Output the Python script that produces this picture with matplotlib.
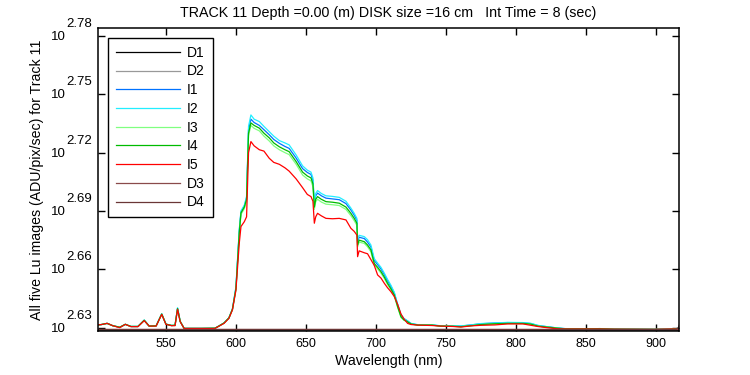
#!/usr/bin/env python
import matplotlib
matplotlib.use('Agg')
import matplotlib.pyplot as plt
import matplotlib.transforms as mtransforms
import numpy as np

plt.rcParams['font.family'] = ['Liberation Sans', 'DejaVu Sans']
plt.rcParams['font.size'] = 9

# wavelength grid (nm) for the Lu images
wl = [500, 504, 508, 512, 517, 521, 525, 530, 534.5, 538, 543, 547, 550,
      554, 556.5, 558.3, 560.2, 563, 575, 585, 588, 591.5, 595, 597.5, 600,
      602.4, 603.6, 606, 607.6, 609, 610.7, 613, 616.7, 620, 623.8, 627, 631,
      635, 638, 643, 647.6, 651, 653.6, 655, 656, 657, 658.3, 661, 664.3,
      669, 673.8, 678.6, 682.1, 684.5, 686.4, 686.9, 688, 691.7, 694, 696.4,
      698.8, 701.2, 703.6, 706, 708.3, 710.7, 713.1, 715.5, 717.9, 720, 722.6,
      725, 730, 740, 746, 755, 760.7, 768, 775, 785, 794, 805, 810.7, 815.5,
      822, 829.8, 835, 850, 860, 870, 899, 910, 916, 918]

# log10 of the signal (ADU/pix/sec)
i1 = [2.6313, 2.6316, 2.6322, 2.6310, 2.6302, 2.6317, 2.6306, 2.6306, 2.6338,
      2.6308, 2.6309, 2.6370, 2.6318, 2.6311, 2.6312, 2.6400, 2.6332, 2.6296,
      2.6296, 2.6297, 2.6309, 2.6324, 2.6350, 2.6395, 2.6505,
      2.6800, 2.6895, 2.6925, 2.6968, 2.7318, 2.7372, 2.7355, 2.7340, 2.7318,
      2.7292, 2.7268, 2.7248, 2.7232, 2.7222, 2.7172, 2.7118, 2.7098, 2.7088,
      2.7058, 2.6935, 2.6978, 2.6992, 2.6978, 2.6966, 2.6962, 2.6958, 2.6938,
      2.6905, 2.6878, 2.6852, 2.6742, 2.6765, 2.6758, 2.6740, 2.6715, 2.6645,
      2.6624, 2.6602, 2.6573, 2.6541, 2.6512, 2.6478, 2.6418, 2.6364, 2.6346,
      2.6334, 2.6321, 2.6314, 2.6314, 2.6309, 2.6309, 2.6308, 2.6314, 2.6320,
      2.6324, 2.6326, 2.6325, 2.6321, 2.6311, 2.6305, 2.6298, 2.6295, 2.6294,
      2.6295, 2.6292, 2.6291, 2.6292, 2.6296, 2.6296]
i2 = [2.6313, 2.6316, 2.6322, 2.6310, 2.6302, 2.6317, 2.6306, 2.6306, 2.6339,
      2.6308, 2.6309, 2.6372, 2.6318, 2.6311, 2.6312, 2.6402, 2.6332, 2.6296,
      2.6296, 2.6297, 2.6309, 2.6324, 2.6351, 2.6396, 2.6510,
      2.6805, 2.6900, 2.6930, 2.6975, 2.7335, 2.7394, 2.7372, 2.7360, 2.7335,
      2.7308, 2.7285, 2.7262, 2.7250, 2.7240, 2.7188, 2.7132, 2.7110, 2.7100,
      2.7070, 2.6945, 2.6990, 2.7005, 2.6990, 2.6978, 2.6975, 2.6970, 2.6950,
      2.6915, 2.6888, 2.6862, 2.6752, 2.6775, 2.6768, 2.6752, 2.6725, 2.6655,
      2.6632, 2.6610, 2.6580, 2.6548, 2.6518, 2.6482, 2.6420, 2.6366, 2.6347,
      2.6335, 2.6322, 2.6315, 2.6314, 2.6310, 2.6310, 2.6309, 2.6314, 2.6321,
      2.6324, 2.6327, 2.6326, 2.6322, 2.6312, 2.6305, 2.6298, 2.6295, 2.6294,
      2.6295, 2.6292, 2.6291, 2.6292, 2.6296, 2.6296]
i3 = [2.6313, 2.6316, 2.6322, 2.6310, 2.6302, 2.6317, 2.6306, 2.6306, 2.6337,
      2.6308, 2.6309, 2.6369, 2.6318, 2.6311, 2.6312, 2.6396, 2.6332, 2.6296,
      2.6296, 2.6297, 2.6309, 2.6323, 2.6349, 2.6393, 2.6495,
      2.6780, 2.6882, 2.6912, 2.6950, 2.7288, 2.7340, 2.7325, 2.7312, 2.7285,
      2.7260, 2.7235, 2.7215, 2.7200, 2.7190, 2.7140, 2.7085, 2.7065, 2.7055,
      2.7025, 2.6908, 2.6948, 2.6960, 2.6946, 2.6935, 2.6932, 2.6928, 2.6908,
      2.6876, 2.6850, 2.6826, 2.6716, 2.6740, 2.6733, 2.6716, 2.6690, 2.6622,
      2.6602, 2.6580, 2.6553, 2.6522, 2.6494, 2.6462, 2.6404, 2.6352, 2.6338,
      2.6328, 2.6318, 2.6313, 2.6313, 2.6308, 2.6307, 2.6305, 2.6310, 2.6315,
      2.6319, 2.6321, 2.6321, 2.6317, 2.6308, 2.6303, 2.6297, 2.6294, 2.6294,
      2.6295, 2.6292, 2.6291, 2.6292, 2.6296, 2.6296]
i4 = [2.6313, 2.6316, 2.6322, 2.6310, 2.6302, 2.6317, 2.6306, 2.6306, 2.6338,
      2.6308, 2.6309, 2.6370, 2.6318, 2.6311, 2.6312, 2.6398, 2.6332, 2.6296,
      2.6296, 2.6297, 2.6309, 2.6324, 2.6350, 2.6395, 2.6500,
      2.6790, 2.6890, 2.6920, 2.6960, 2.7300, 2.7353, 2.7340, 2.7326, 2.7300,
      2.7276, 2.7250, 2.7230, 2.7215, 2.7205, 2.7154, 2.7100, 2.7080, 2.7070,
      2.7040, 2.6920, 2.6960, 2.6974, 2.6960, 2.6948, 2.6945, 2.6940, 2.6920,
      2.6888, 2.6862, 2.6837, 2.6725, 2.6750, 2.6742, 2.6725, 2.6700, 2.6630,
      2.6610, 2.6588, 2.6560, 2.6528, 2.6500, 2.6468, 2.6408, 2.6356, 2.6340,
      2.6330, 2.6319, 2.6313, 2.6313, 2.6308, 2.6307, 2.6305, 2.6310, 2.6316,
      2.6320, 2.6322, 2.6322, 2.6318, 2.6308, 2.6303, 2.6297, 2.6294, 2.6294,
      2.6295, 2.6292, 2.6291, 2.6292, 2.6296, 2.6296]
i5 = [2.6313, 2.6316, 2.6322, 2.6310, 2.6300, 2.6317, 2.6305, 2.6305, 2.6336,
      2.6308, 2.6308, 2.6368, 2.6317, 2.6310, 2.6310, 2.6394, 2.6330, 2.6296,
      2.6296, 2.6296, 2.6308, 2.6322, 2.6348, 2.6391, 2.6493,
      2.6735, 2.6820, 2.6845, 2.6870, 2.7200, 2.7257, 2.7235, 2.7215, 2.7208,
      2.7171, 2.7150, 2.7140, 2.7122, 2.7105, 2.7065, 2.7020, 2.6985, 2.6974,
      2.6950, 2.6837, 2.6870, 2.6888, 2.6875, 2.6862, 2.6860, 2.6862, 2.6854,
      2.6811, 2.6795, 2.6776, 2.6665, 2.6695, 2.6685, 2.6680, 2.6650, 2.6620,
      2.6571, 2.6555, 2.6528, 2.6505, 2.6485, 2.6460, 2.6420, 2.6370, 2.6345,
      2.6322, 2.6316, 2.6313, 2.6311, 2.6308, 2.6306, 2.6303, 2.6309, 2.6312,
      2.6314, 2.6319, 2.6319, 2.6312, 2.6306, 2.6300, 2.6294, 2.6293, 2.6293,
      2.6293, 2.6292, 2.6291, 2.6293, 2.6293, 2.6296]

# dark frames
wl_dark = [500, 600, 700, 800, 900, 914, 916, 918]
d1 = [2.6286, 2.6286, 2.6286, 2.6286, 2.6286, 2.6286, 2.6287, 2.6290]
d2 = [2.6288, 2.6288, 2.6288, 2.6288, 2.6288, 2.6288, 2.6290, 2.6300]
d3 = [2.6291, 2.6291, 2.6291, 2.6291, 2.6291, 2.6291, 2.6300, 2.6340]
d4 = [2.6290, 2.6290, 2.6290, 2.6290, 2.6290, 2.6290, 2.6296, 2.6320]

yticks = [2.63, 2.66, 2.69, 2.72, 2.75, 2.78]
xticks = [550, 600, 650, 700, 750, 800, 850, 900]

series = [
    ('D1', wl_dark, d1, 'black'),
    ('D2', wl_dark, d2, '#999999'),
    ('I1', wl, i1, '#0072ff'),
    ('I2', wl, i2, '#22eeff'),
    ('I3', wl, i3, '#80ff80'),
    ('I4', wl, i4, '#00bb00'),
    ('I5', wl, i5, '#ff0000'),
    ('D3', wl_dark, d3, '#8a4a4a'),
    ('D4', wl_dark, d4, '#6a3636'),
]


def main():
    fig = plt.figure(figsize=(7.5, 3.75), dpi=100)
    ax = fig.add_axes([0.1307, 0.118, 0.7747, 0.8073])

    for name, x, y, c in series:
        ax.plot(x, 10 ** np.array(y), color=c, lw=0.9, label=name)

    ax.set_yscale('log')
    ax.set_xlim(501.5, 916.5)
    ax.set_ylim(10 ** 2.6284, 10 ** 2.7841)
    ax.set_xticks(xticks)
    ax.set_yticks([10 ** t for t in yticks])
    ax.yaxis.set_minor_locator(matplotlib.ticker.NullLocator())
    ax.set_yticklabels([])
    ax.tick_params(direction='in', length=5, width=1, top=True, right=True,
                   labelsize=9, pad=5)
    for s in ax.spines.values():
        s.set_linewidth(1.1)

    # MATLAB style 10^x labels, exponent same size as base
    trans = mtransforms.blended_transform_factory(ax.transAxes, ax.transData)
    for t in yticks:
        ax.annotate('10', xy=(0, 10 ** t), xycoords=trans,
                    xytext=(-32, -1), textcoords='offset pixels',
                    ha='right', va='center', fontsize=9.5)
        ax.annotate('%.2f' % t, xy=(0, 10 ** t), xycoords=trans,
                    xytext=(-32, 12), textcoords='offset pixels',
                    ha='left', va='center', fontsize=9.5)

    ax.set_title('TRACK 11 Depth =0.00 (m) DISK size =16 cm   Int Time = 8 (sec)',
                 fontsize=10.3, pad=8)
    ax.set_xlabel('Wavelength (nm)', fontsize=10.2, labelpad=3)
    ax.set_ylabel('All five Lu images (ADU/pix/sec) for Track 11', fontsize=10.2)
    ax.yaxis.set_label_coords(-0.093, 0.5)

    leg = ax.legend(loc='upper left', bbox_to_anchor=(0.0172, 0.967),
                    borderaxespad=0, fancybox=False, framealpha=1,
                    edgecolor='black', fontsize=10, handlelength=4.6,
                    handletextpad=0.55, labelspacing=0.34, borderpad=0.55)
    leg.get_frame().set_linewidth(1.0)

    fig.savefig('out.png', dpi=100)


if __name__ == '__main__':
    main()
